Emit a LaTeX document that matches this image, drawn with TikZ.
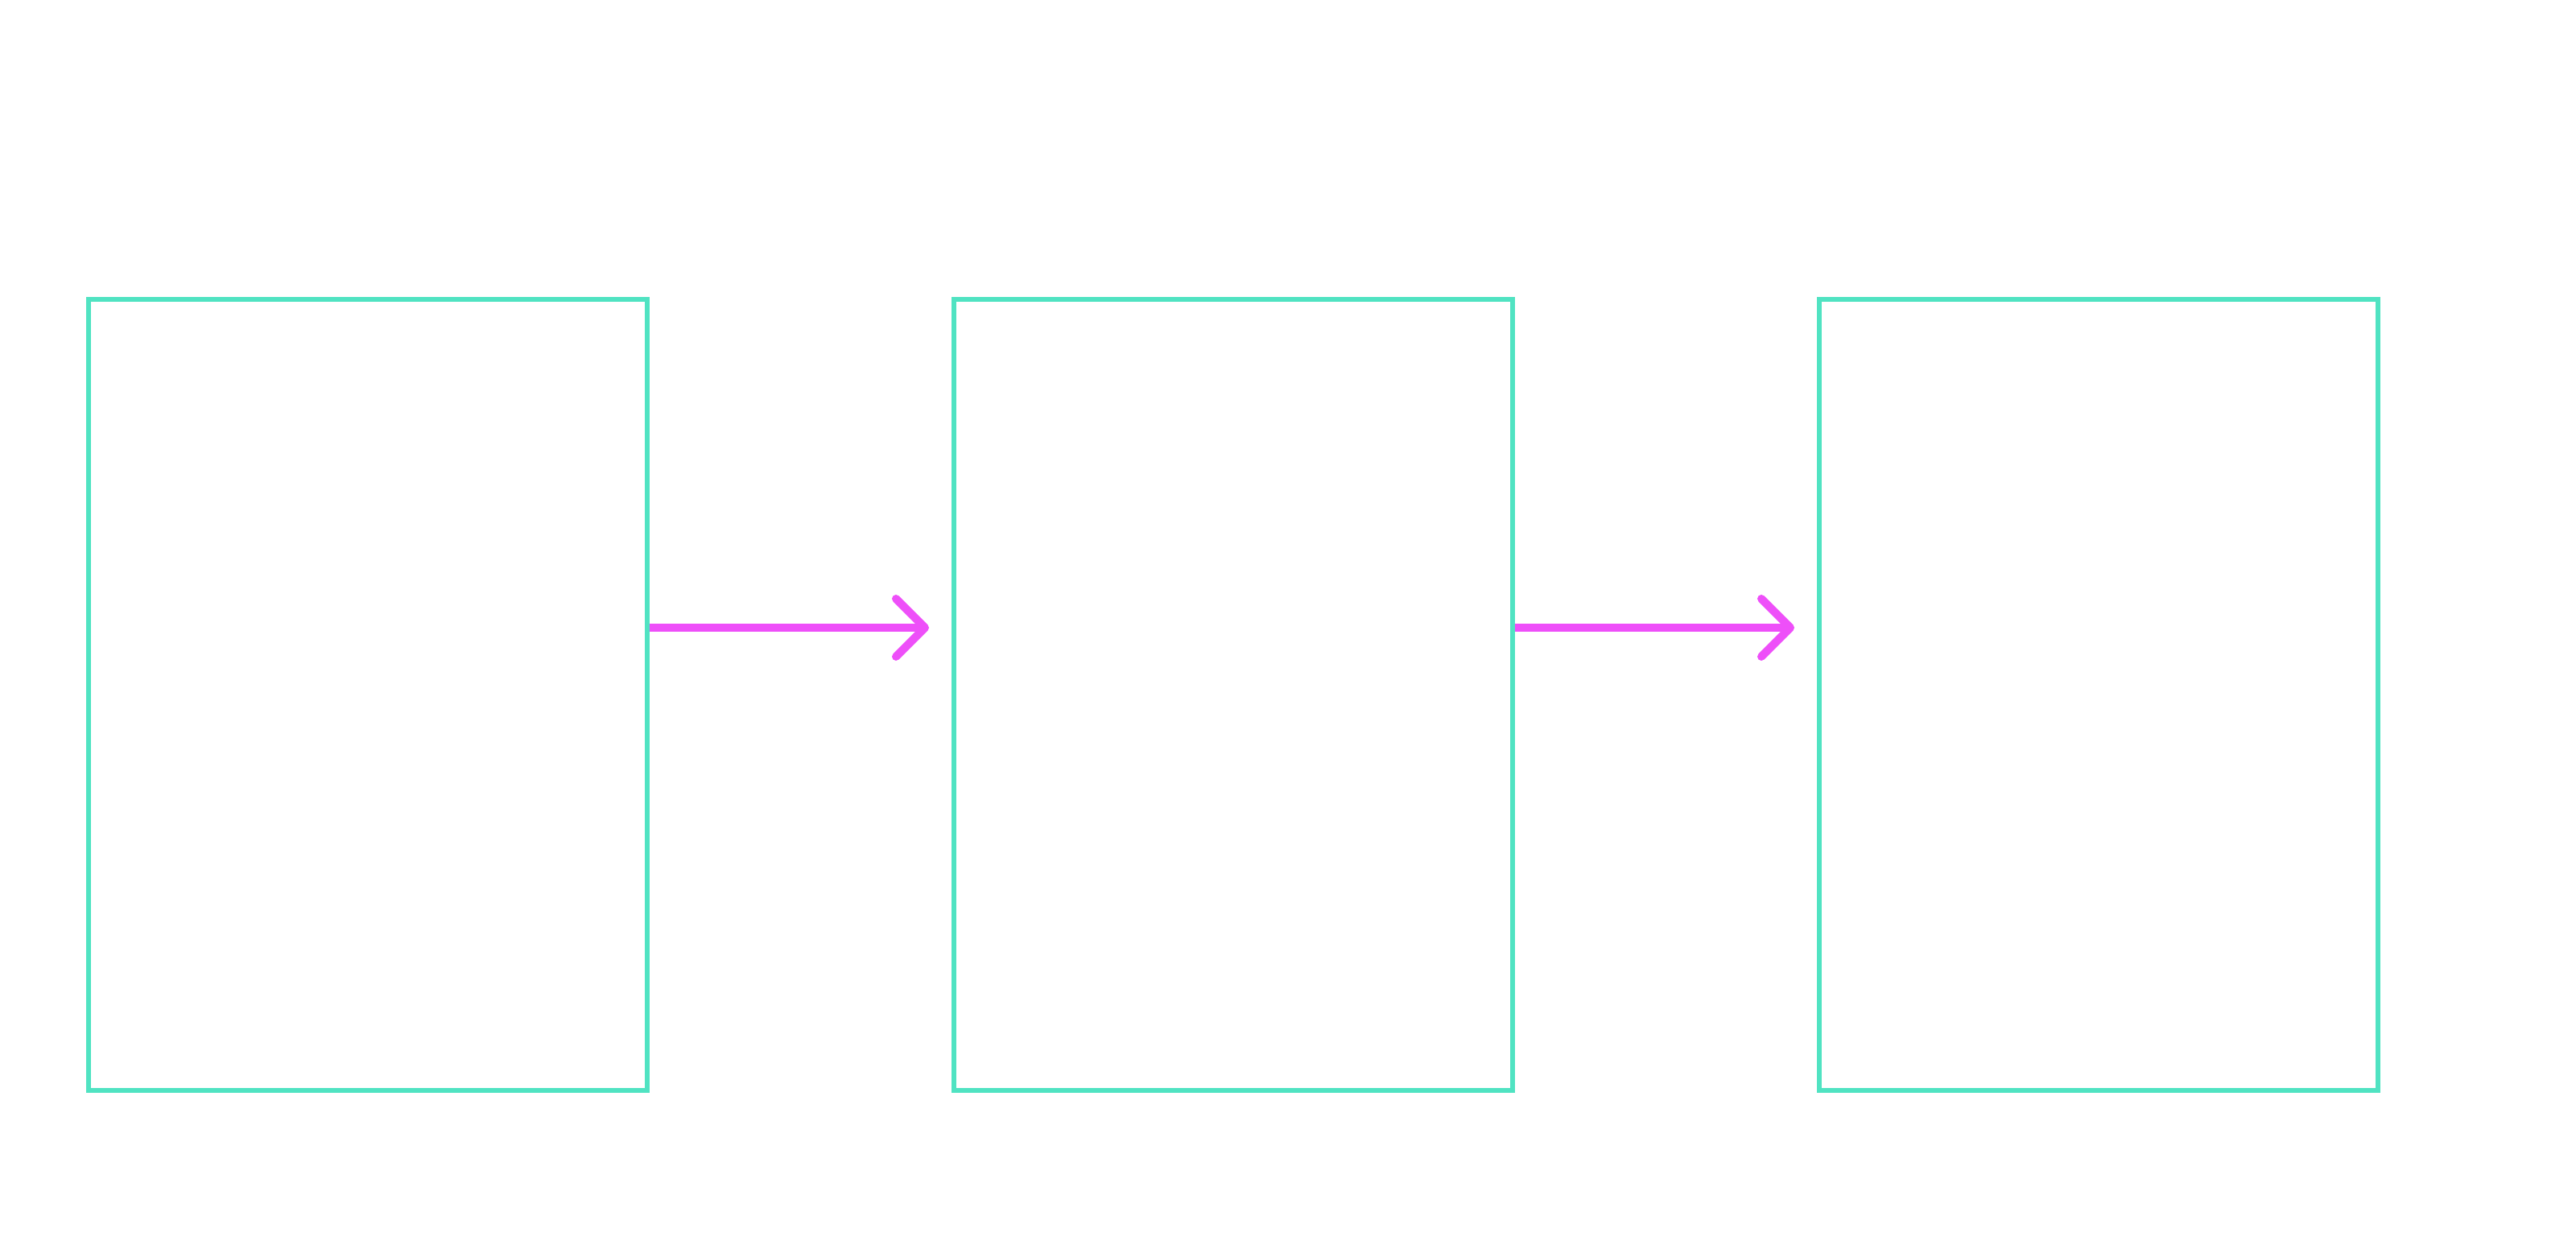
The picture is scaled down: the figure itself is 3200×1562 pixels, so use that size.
\documentclass[tikz,border=0pt]{standalone}
\usetikzlibrary{arrows.meta}
\definecolor{boxteal}{HTML}{50E3C2}
\definecolor{arrmag}{HTML}{EE4FF9}
\begin{document}
\begin{tikzpicture}[x=0.25pt,y=-0.25pt,
  box/.style={draw=boxteal,line width=1.5pt,rectangle,inner sep=0pt,
    minimum width=173.5pt,minimum height=245.75pt},
  arr/.style={draw=arrmag,line width=2.5pt,shorten >=7pt,
    -{Straight Barb[length=9pt,width=18pt,round]}}]
\fill[white] (0,0) rectangle (3200,1562);
\useasboundingbox (0,0) rectangle (3200,1562);
\node[box] (b1) at (457,863.5) {};
\node[box] (b2) at (1532,863.5) {};
\node[box] (b3) at (2607,863.5) {};
\coordinate (ay) at (0,780);
\draw[arr] (b1.east |- ay) -- (b2.west |- ay);
\draw[arr] (b2.east |- ay) -- (b3.west |- ay);
\end{tikzpicture}
\end{document}
